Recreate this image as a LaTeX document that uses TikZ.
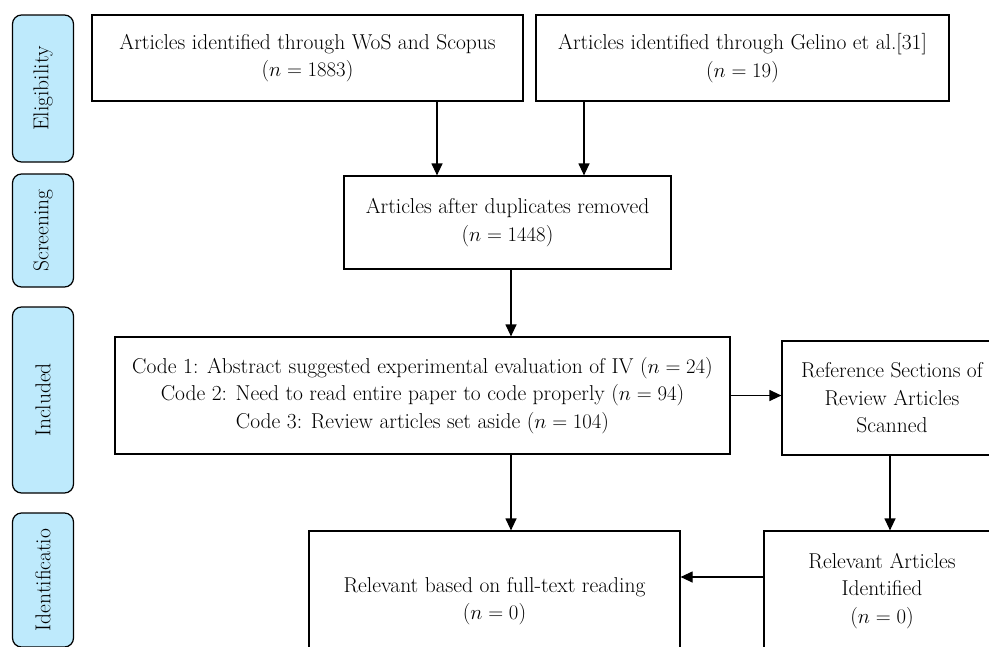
\documentclass[tikz,border=0pt]{standalone}
\usetikzlibrary{arrows.meta}
\definecolor{phasebl}{RGB}{190,234,252}
\begin{document}
\begin{tikzpicture}[x=1pt,y=-1pt,
    box/.style={draw,line width=1.2pt,align=center,font=\fontsize{21.5}{27.5}\selectfont},
    phase/.style={draw,line width=1.2pt,rounded corners=9pt,fill=phasebl,rotate=90,
        minimum height=61pt,font=\fontsize{21.5}{24}\selectfont},
    arr/.style={line width=1.2pt,-{Triangle[length=12pt,width=11pt]}}]
                \clip (0,0) rectangle (989,646);
                \fill[white] (0,0) rectangle (989,646);
                %% phases
                \node[phase,minimum width=147pt] (elig) at (43,88.5) {Eligibility};
                \node[phase,minimum width=113pt] (scr) at (43,230.5) {Screening};
                \node[phase,minimum width=186pt] (incl) at (43,400) {Included};
                \node[phase,minimum width=134pt] (ident) at (43,580) {Identificatio};
                %% sources
                \node[box,minimum width=431pt,minimum height=86pt] (wos) at (307.5,58)
                    {Articles identified through WoS and Scopus\\($n = 1883$)};
                \node[box,minimum width=413pt,minimum height=86pt] (gel) at (742.5,58)
                    {Articles identified through Gelino et al.[31]\\($n = 19$)};
                %% screening
                \node[box,minimum width=327pt,minimum height=93pt] (dup) at (507.5,222.5)
                    {Articles after duplicates removed\\($n = 1448$)};
                %% coding
                \node[box,minimum width=615pt,minimum height=117pt] (code) at (422.5,395.5)
                    {Code 1: Abstract suggested experimental evaluation of IV ($n = 24$)\\
                     Code 2: Need to read entire paper to code properly ($n = 94$)\\
                     Code 3: Review articles set aside ($n = 104$)};
                \node[box,minimum width=220pt,minimum height=114pt] (refs) at (892,398)
                    {Reference Sections of\\Review Articles\\Scanned};
                %% results
                \node[box,minimum width=371pt,minimum height=140pt] (full) at (494.5,601)
                    {Relevant based on full-text reading\\($n = 0$)};
                \node[box,minimum width=236pt,minimum height=120pt] (relv) at (882,591)
                    {Relevant Articles\\Identified\\($n = 0$)};
                %% arrows
                \coordinate (xa) at (437,0);
                \coordinate (xb) at (584,0);
                \coordinate (xc) at (511,0);
                \coordinate (yd) at (0,577);
                \draw[arr] (wos.south -| xa) -- (dup.north -| xa);
                \draw[arr] (gel.south -| xb) -- (dup.north -| xb);
                \draw[arr] (dup.south -| xc) -- (code.north -| xc);
                \draw[arr] (code.south -| xc) -- (full.north -| xc);
                \draw[arr] (code.east) -- (refs.west |- code.east);
                \draw[arr] (refs.south -| 890,0) -- (relv.north -| 890,0);
                \draw[arr] (relv.west |- yd) -- (full.east |- yd);
            \end{tikzpicture}
\end{document}
